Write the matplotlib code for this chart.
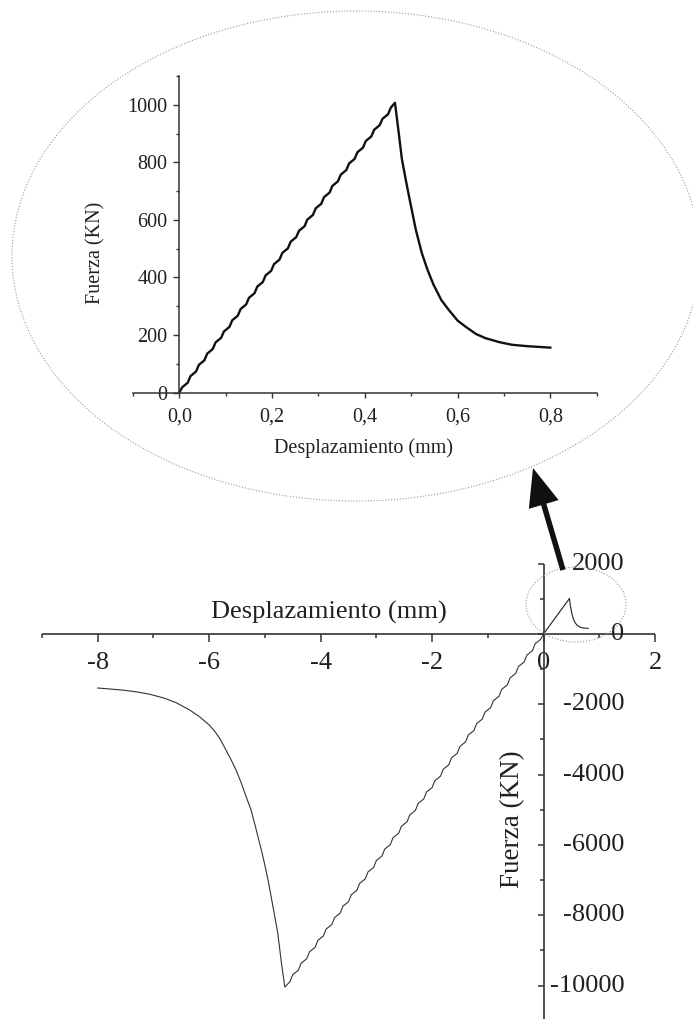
import matplotlib
matplotlib.use('Agg')
import matplotlib.pyplot as plt
from matplotlib.patches import Ellipse, FancyArrow
from matplotlib import transforms

plt.rcParams['font.family'] = ['Liberation Serif', 'DejaVu Serif']
plt.rcParams['axes.unicode_minus'] = False

# ---------------- data ----------------
# detail (inset) curve: displacement (mm) vs force (kN)
inset_x = [0.000, 0.006, 0.018, 0.024, 0.036, 0.042, 0.054, 0.060, 0.072, 0.078,
           0.090, 0.096, 0.108, 0.114, 0.126, 0.132, 0.144, 0.150, 0.162, 0.168,
           0.180, 0.186, 0.198, 0.204, 0.216, 0.222, 0.234, 0.240, 0.252, 0.258,
           0.270, 0.276, 0.288, 0.294, 0.306, 0.312, 0.324, 0.330, 0.342, 0.348,
           0.360, 0.366, 0.378, 0.384, 0.396, 0.402, 0.414, 0.420, 0.432, 0.438,
           0.450, 0.456, 0.465,
           0.472, 0.480, 0.489, 0.498, 0.510, 0.523, 0.535, 0.548, 0.565, 0.581,
           0.600, 0.617, 0.640, 0.660, 0.690, 0.717, 0.750, 0.800]
inset_y = [0, 18, 34, 57, 73, 96, 112, 135, 151, 174,
           190, 212, 228, 251, 267, 290, 306, 329, 345, 368,
           384, 407, 423, 446, 462, 485, 501, 524, 540, 562,
           578, 601, 617, 640, 656, 679, 695, 718, 734, 757,
           773, 796, 812, 835, 851, 874, 890, 913, 929, 951,
           967, 990, 1007,
           916, 810, 733, 660, 565, 484, 427, 375, 321, 287,
           250, 229, 203, 189, 175, 166, 161, 156]

# full (compression) curve
main_x = [0.00, -0.05, -0.15, -0.20, -0.30, -0.35, -0.45, -0.50, -0.60, -0.65,
          -0.75, -0.80, -0.90, -0.95, -1.05, -1.10, -1.20, -1.25, -1.35, -1.40,
          -1.50, -1.55, -1.65, -1.70, -1.80, -1.85, -1.95, -2.00, -2.10, -2.15,
          -2.25, -2.30, -2.40, -2.45, -2.55, -2.60, -2.70, -2.75, -2.85, -2.90,
          -3.00, -3.05, -3.15, -3.20, -3.30, -3.35, -3.45, -3.50, -3.60, -3.65,
          -3.75, -3.80, -3.90, -3.95, -4.05, -4.10, -4.20, -4.25, -4.35, -4.40,
          -4.50, -4.55, -4.643,
          -4.70, -4.77, -4.85, -4.94, -5.00, -5.06, -5.18, -5.25, -5.33, -5.42,
          -5.51, -5.60, -5.72, -5.80, -5.90, -6.00, -6.17, -6.35, -6.59, -6.80,
          -7.07, -7.30, -7.55, -7.80, -8.00]
main_y = [0, -153, -279, -478, -604, -802, -928, -1127, -1253, -1451,
          -1577, -1775, -1902, -2100, -2226, -2424, -2551, -2749, -2875, -3073,
          -3200, -3398, -3524, -3722, -3848, -4047, -4173, -4371, -4497, -4695,
          -4822, -5020, -5146, -5344, -5471, -5669, -5795, -5993, -6120, -6318,
          -6444, -6642, -6768, -6967, -7093, -7291, -7417, -7616, -7742, -7940,
          -8066, -8264, -8391, -8589, -8715, -8913, -9040, -9238, -9364, -9562,
          -9689, -9887, -10043,
          -9400, -8500, -7800, -7030, -6580, -6170, -5420, -5000, -4660, -4260,
          -3900, -3600, -3240, -3000, -2770, -2590, -2360, -2165, -1960, -1830,
          -1716, -1650, -1600, -1565, -1540]

main_xticks = [-8, -6, -4, -2, 0, 2]
main_xticklabels = ['-8', '-6', '-4', '-2', '0', '2']
main_xminor = [-9, -7, -5, -3, -1, 1]
main_yticks = [2000, 0, -2000, -4000, -6000, -8000, -10000]
main_yticklabels = ['2000', '0', '-2000', '-4000', '-6000', '-8000', '-10000']
main_yminor = [1000, -1000, -3000, -5000, -7000, -9000]

inset_xticks = [0.0, 0.2, 0.4, 0.6, 0.8]
inset_xticklabels = ['0,0', '0,2', '0,4', '0,6', '0,8']
inset_xminor = [-0.1, 0.1, 0.3, 0.5, 0.7, 0.9]
inset_yticks = [0, 200, 400, 600, 800, 1000]
inset_yticklabels = ['0', '200', '400', '600', '800', '1000']
inset_yminor = [100, 300, 500, 700, 900, 1100]

xlabel = 'Desplazamiento (mm)'
ylabel = 'Fuerza (KN)'

# ---------------- figure ----------------
W, H = 693, 1019
fig = plt.figure(figsize=(W / 100, H / 100), dpi=100)
TXT = '#231f20'
AX = '#333333'


def fbox(l, t, r, b):
    return [l / W, 1 - b / H, (r - l) / W, (b - t) / H]


# ----- main axes -----
ax = fig.add_axes(fbox(42, 563.5, 655, 1019))
ax.patch.set_alpha(0)
ax.set_xlim(-9, 2)
ax.set_ylim(-10950, 2000)
for s in ['top', 'right']:
    ax.spines[s].set_visible(False)
ax.spines['left'].set_position(('data', 0))
ax.spines['bottom'].set_position(('data', 0))
for s in ['left', 'bottom']:
    ax.spines[s].set_linewidth(1.2)
    ax.spines[s].set_color(AX)
    ax.spines[s].set_capstyle('butt')

ax.plot(main_x, main_y, color='#333333', lw=0.8)
ax.plot(inset_x, inset_y, color='#222222', lw=0.8)

ax.xaxis.set_ticks_position('bottom')
ax.yaxis.set_ticks_position('left')
ax.set_xticks(main_xticks)
ax.set_xticklabels(main_xticklabels, fontsize=19, color=TXT)
ax.set_xticks(main_xminor, minor=True)
ax.set_yticks(main_yticks)
ax.set_yticks(main_yminor, minor=True)
ax.tick_params(axis='x', which='major', direction='out', length=5.8, width=1.1, pad=7, color=AX)
ax.tick_params(axis='x', which='minor', direction='out', length=2.9, width=1.1, color=AX)
ax.tick_params(axis='y', which='major', direction='out', length=4.5, width=1.1, color=AX, labelleft=False)
ax.tick_params(axis='y', which='minor', direction='out', length=2.6, width=1.1, color=AX, labelleft=False)

ytr = transforms.offset_copy(ax.transData, fig=fig, x=81, y=0, units='dots')
for v, lab in zip(main_yticks, main_yticklabels):
    ax.text(0, v, lab, transform=ytr, ha='right', va='center', fontsize=19, color=TXT)

ax.set_xlabel(xlabel, fontsize=19, color=TXT, va='center')
ax.xaxis.set_label_coords((329 - 42) / 613, (1019 - 612) / 455.5)
ax.set_ylabel(ylabel, fontsize=19.5, color=TXT, va='center', ha='center')
ax.yaxis.set_label_coords((513 - 42) / 613, (1019 - 819) / 455.5)

# ----- inset (detail) axes -----
ax2 = fig.add_axes(fbox(133, 76, 596.7, 392.5))
ax2.patch.set_alpha(0)
ax2.set_xlim(-0.1, 0.9)
ax2.set_ylim(0, 1100)
for s in ['top', 'right']:
    ax2.spines[s].set_visible(False)
ax2.spines['left'].set_position(('data', 0))
for s in ['left', 'bottom']:
    ax2.spines[s].set_linewidth(1.1)
    ax2.spines[s].set_color(AX)

ax2.plot(inset_x, inset_y, color='#111111', lw=1.7, solid_joinstyle='round')

ax2.xaxis.set_ticks_position('bottom')
ax2.yaxis.set_ticks_position('left')
ax2.set_xticks(inset_xticks)
ax2.set_xticklabels(inset_xticklabels, fontsize=14.5, color=TXT)
ax2.set_xticks(inset_xminor, minor=True)
ax2.set_yticks(inset_yticks)
ax2.set_yticklabels(inset_yticklabels, fontsize=14.5, color=TXT)
ax2.set_yticks(inset_yminor, minor=True)
ax2.tick_params(axis='x', which='major', direction='out', length=3.6, width=1.0, pad=7.5, color=AX)
ax2.tick_params(axis='x', which='minor', direction='out', length=2.2, width=1.0, color=AX)
ax2.tick_params(axis='y', which='major', direction='out', length=4.5, width=1.0, pad=4, color=AX)
ax2.tick_params(axis='y', which='minor', direction='out', length=2.4, width=1.0, color=AX)

ax2.set_xlabel(xlabel, fontsize=14.5, color=TXT, va='center')
ax2.xaxis.set_label_coords((363 - 133) / 463.7, (392.5 - 448) / 316.5)
ax2.set_ylabel(ylabel, fontsize=14.5, color=TXT, va='center', ha='center')
ax2.yaxis.set_label_coords((95.5 - 133) / 463.7, (392.5 - 253) / 316.5)

# ----- overlay: dotted ellipses and arrow -----
axo = fig.add_axes([0, 0, 1, 1], zorder=10)
axo.set_xlim(0, W)
axo.set_ylim(H, 0)
axo.axis('off')
axo.patch.set_alpha(0)
axo.add_patch(Ellipse((356, 256), 688, 490, fill=False, ec='#9a9a9a', lw=0.8, ls=(0, (1, 1.6))))
axo.add_patch(Ellipse((576, 604.5), 100, 75, fill=False, ec='#9a9a9a', lw=0.8, ls=(0, (1, 1.6))))
axo.add_patch(FancyArrow(563, 570, -30, -102, width=5.5, head_width=31, head_length=38,
                         length_includes_head=True, color='#111111', lw=0))

fig.savefig('out.png', dpi=100)
